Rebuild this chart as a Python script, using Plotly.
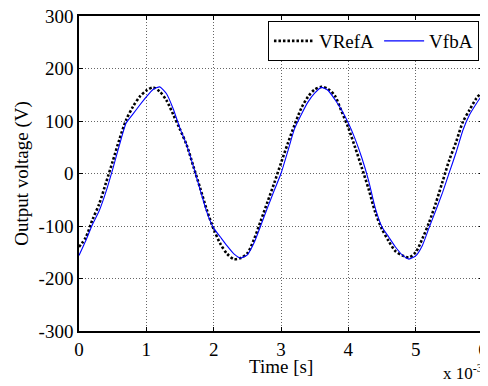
import plotly.graph_objects as go

# Time axis (ms, displayed as x 10^-3 s)
time_ms = [round(i * 0.1, 1) for i in range(61)]

v_ref_a = [-140, -122, -88, -58, -18, 23, 65, 102, 127, 146,
           158, 164, 156, 139, 112, 84, 54, 13, -28, -70,
           -106, -134, -153, -163, -161, -152, -125, -90, -54, -18,
           20, 57, 92, 124, 146, 160, 165, 161, 148, 118,
           87, 50, 11, -29, -74, -106, -129, -148, -156, -160,
           -150, -124, -93, -56, -15, 26, 60, 98, 121, 143,
           157]

v_fb_a = [-156, -128, -97, -71, -35, 8, 54, 96, 113, 130,
          146, 160, 165, 152, 123, 86, 54, 13, -31, -74,
          -104, -121, -138, -153, -161, -155, -132, -99, -65, -32,
          0, 42, 85, 112, 136, 153, 164, 158, 141, 121,
          96, 66, 30, -13, -66, -102, -121, -140, -155, -163,
          -157, -137, -103, -70, -36, 2, 40, 82, 112, 133,
          152]

x_ticks = [0, 1, 2, 3, 4, 5, 6]
y_ticks = [-300, -200, -100, 0, 100, 200, 300]

FONT = "Liberation Serif"
FS = 19

fig = go.Figure()
fig.add_trace(go.Scatter(
    x=time_ms, y=v_ref_a, name="VRefA", mode="lines",
    line=dict(color="black", width=2.6, dash="2.5px,2px", shape="spline", smoothing=0.8),
))
fig.add_trace(go.Scatter(
    x=time_ms, y=v_fb_a, name="VfbA", mode="lines",
    line=dict(color="#0000ff", width=1.1, shape="spline", smoothing=0.5),
))

axis_common = dict(
    showline=True, linecolor="black", linewidth=1.5, mirror="allticks",
    ticks="inside", ticklen=4, tickwidth=1, tickcolor="black",
    showgrid=True, gridcolor="#666666", gridwidth=1, griddash="1px,2px",
    zeroline=False, automargin=False, ticklabeloverflow="allow",
    tickfont=dict(family=FONT, size=FS, color="black"),
)

# The page body adds an 8px offset, so the figure is 8px smaller than the window.
fig.update_layout(
    width=480, height=378,
    margin=dict(l=71, r=5, t=8, b=55),
    paper_bgcolor="white", plot_bgcolor="white",
    font=dict(family=FONT, size=FS, color="black"),
    xaxis=dict(range=[0, 6], tickvals=x_ticks, ticktext=[str(v) for v in x_ticks],
               **axis_common),
    yaxis=dict(range=[-300, 300], tickvals=y_ticks, ticktext=[str(v) for v in y_ticks],
               **axis_common),
    legend=dict(orientation="h", x=0.99, xanchor="right", y=0.984, yanchor="top",
                bordercolor="black", borderwidth=1, bgcolor="white",
                font=dict(family=FONT, size=FS), itemwidth=40, tracegroupgap=0),
    showlegend=True,
)

fig.add_annotation(
    text="Time [s]", xref="paper", yref="paper", x=0.5, y=-0.113,
    xanchor="center", yanchor="middle", showarrow=False,
    font=dict(family=FONT, size=FS, color="black"),
)
fig.add_annotation(
    text="Output voltage (V)", xref="paper", yref="paper", x=-0.143, y=0.5,
    xanchor="center", yanchor="middle", textangle=-90, showarrow=False,
    font=dict(family=FONT, size=FS, color="black"),
)
fig.add_annotation(
    text="x 10<sup>-3</sup>", xref="paper", yref="paper", x=1.004, y=-0.172,
    xanchor="right", yanchor="bottom", showarrow=False,
    font=dict(family=FONT, size=17, color="black"),
)

fig.write_html("out.html")
